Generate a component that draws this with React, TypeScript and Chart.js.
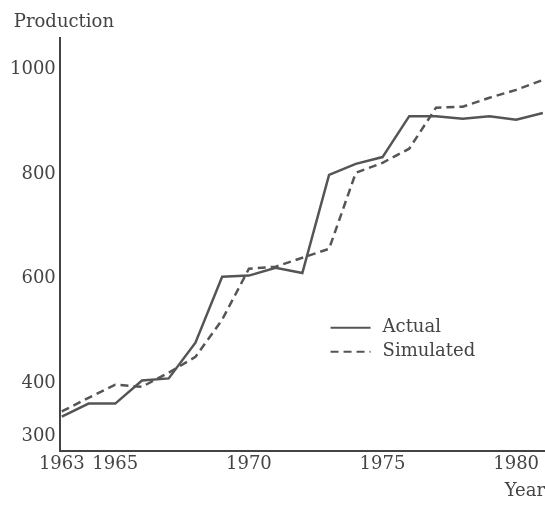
import React, { useEffect, useRef } from "react";
import { Chart, registerables } from "chart.js";

Chart.register(...registerables);

const years = [1963, 1964, 1965, 1966, 1967, 1968, 1969, 1970, 1971, 1972, 1973, 1974, 1975, 1976, 1977, 1978, 1979, 1980, 1981];
const actual = [337, 362, 362, 406, 410, 478, 604, 606, 621, 611, 798, 819, 832, 910, 910, 905, 910, 903, 916];
const simulated = [347, 373, 398, 394, 421, 451, 522, 619, 623, 640, 657, 802, 821, 848, 926, 928, 945, 960, 979];
const xTickValues = [1963, 1965, 1970, 1975, 1980];
const yTickValues = [300, 400, 600, 800, 1000];
const seriesNames = ["Actual", "Simulated"];
const yAxisTitle = "Production";
const xAxisTitle = "Year";

const FONT = "'DejaVu Serif', 'Liberation Serif', serif";
const INK = "#444";
const LINE = "#555";

const annotationsPlugin = {
  id: "inlineLegend",
  afterDatasetsDraw(chart: any) {
    const { ctx, chartArea } = chart;
    const w = chartArea.right - chartArea.left;
    const h = chartArea.bottom - chartArea.top;
    const x0 = chartArea.left + w * 0.558;
    const y0 = chartArea.top + h * 0.702;
    const rowGap = 24;
    ctx.save();
    ctx.font = `18px ${FONT}`;
    ctx.textBaseline = "middle";
    ctx.fillStyle = INK;
    chart.data.datasets.forEach((ds: any, i: number) => {
      const y = y0 + i * rowGap;
      ctx.strokeStyle = ds.borderColor;
      ctx.lineWidth = 2;
      ctx.setLineDash(ds.borderDash || []);
      ctx.beginPath();
      ctx.moveTo(x0, y);
      ctx.lineTo(x0 + 40, y);
      ctx.stroke();
      ctx.setLineDash([]);
      ctx.fillText(ds.label, x0 + 52, y);
    });
    // y-axis title, horizontal, above the axis
    ctx.textAlign = "left";
    ctx.fillText(yAxisTitle, chartArea.left - 46, chartArea.top - 16);
    ctx.restore();
  },
};

export default function App() {
  const canvasRef = useRef<HTMLCanvasElement | null>(null);

  useEffect(() => {
    document.body.style.margin = "0";
    const canvas = canvasRef.current;
    if (!canvas) return;
    const chart = new Chart(canvas, {
      type: "line",
      data: {
        datasets: [
          {
            label: seriesNames[0],
            data: years.map((y, i) => ({ x: y, y: actual[i] })),
            borderColor: LINE,
            borderWidth: 2.5,
            pointRadius: 0,
            tension: 0,
            fill: false,
          },
          {
            label: seriesNames[1],
            data: years.map((y, i) => ({ x: y, y: simulated[i] })),
            borderColor: LINE,
            borderWidth: 2.5,
            borderDash: [8, 5],
            pointRadius: 0,
            tension: 0,
            fill: false,
          },
        ],
      },
      options: {
        animation: false,
        responsive: false,
        maintainAspectRatio: false,
        layout: { padding: { left: 6, right: 0, top: 38, bottom: 6 } },
        plugins: {
          legend: { display: false },
          tooltip: { enabled: false },
          title: { display: false },
        },
        scales: {
          x: {
            type: "linear",
            min: 1962.925,
            max: 1981.08,
            afterBuildTicks: (scale: any) => {
              scale.ticks = xTickValues.map((v) => ({ value: v }));
            },
            ticks: {
              color: INK,
              font: { family: FONT, size: 18 },
              padding: 3,
              maxRotation: 0,
              autoSkip: false,
              callback: (v: any) => String(v),
            },
            grid: { display: true, drawOnChartArea: false, drawTicks: false },
            border: { display: true, color: INK, width: 2 },
            title: {
              display: true,
              text: xAxisTitle,
              align: "end",
              color: INK,
              font: { family: FONT, size: 18, weight: "normal" },
              padding: { top: 2, bottom: 0 },
            },
          },
          y: {
            type: "linear",
            min: 272,
            max: 1059,
            afterBuildTicks: (scale: any) => {
              scale.ticks = yTickValues.map((v) => ({ value: v }));
            },
            ticks: {
              color: INK,
              font: { family: FONT, size: 18 },
              padding: 4,
              autoSkip: false,
              callback: (v: any) => String(v),
            },
            grid: { display: true, drawOnChartArea: false, drawTicks: false },
            border: { display: true, color: INK, width: 2 },
          },
        },
      },
      plugins: [annotationsPlugin],
    } as any);
    return () => chart.destroy();
  }, []);

  return (
    <div style={{ width: 545, height: 508, background: "#fff" }}>
      <canvas ref={canvasRef} width={545} height={508} style={{ width: 545, height: 508, display: "block" }} />
    </div>
  );
}
